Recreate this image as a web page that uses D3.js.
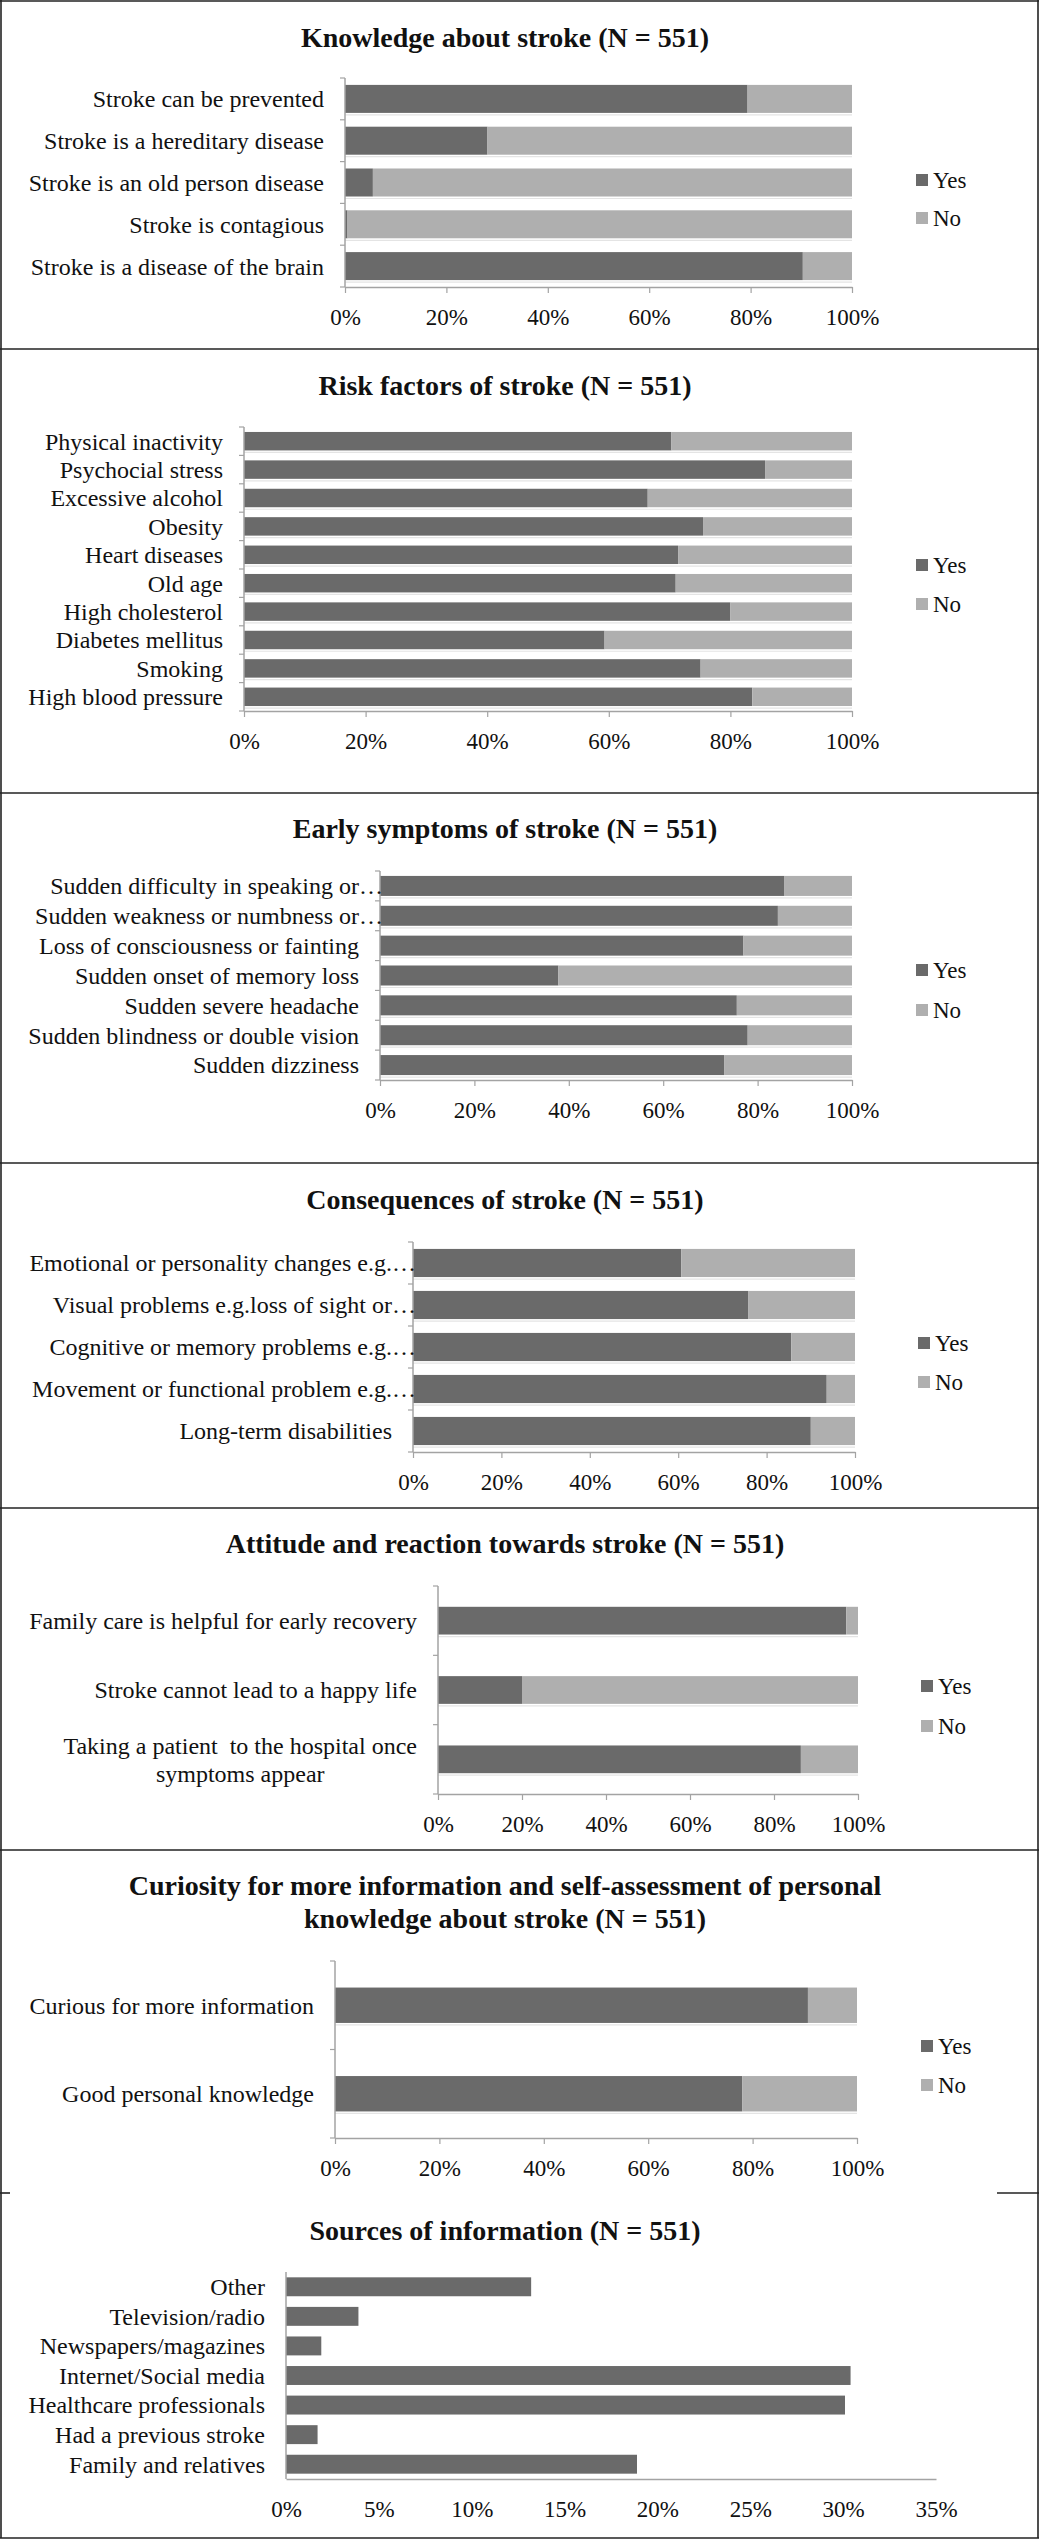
<!DOCTYPE html>
<html>
<head>
<meta charset="utf-8">
<script src="https://cdn.jsdelivr.net/npm/d3@7"></script>
<style>
  body { margin: 0; background: #fff; }
  text { font-family: "Liberation Serif", "Times New Roman", serif; fill: #111; white-space: pre; }
</style>
</head>
<body>
<div id="chart"></div>
<script>
// ---- data (percent), categories listed top to bottom as drawn ----
var knowCats = ['Stroke can be prevented', 'Stroke is a hereditary disease', 'Stroke is an old person disease',
                'Stroke is contagious', 'Stroke is a disease of the brain']
var knowYes = [79.4, 28.1, 5.5, 0.5, 90.3]
var knowNo  = [20.6, 71.9, 94.5, 99.5, 9.7]

var riskCats = ['Physical inactivity', 'Psychocial stress', 'Excessive alcohol', 'Obesity', 'Heart diseases',
                'Old age', 'High cholesterol', 'Diabetes mellitus', 'Smoking', 'High blood pressure']
var riskYes = [70.3, 85.7, 66.4, 75.5, 71.4, 71.0, 80.0, 59.3, 75.1, 83.6]
var riskNo  = [29.7, 14.3, 33.6, 24.5, 28.6, 29.0, 20.0, 40.7, 24.9, 16.4]

var symCats = ['Sudden difficulty in speaking or\u2026', 'Sudden weakness or numbness or\u2026',
               'Loss of consciousness or fainting', 'Sudden onset of memory loss', 'Sudden severe headache',
               'Sudden blindness or double vision', 'Sudden dizziness']
var symYes = [85.7, 84.3, 77.0, 37.8, 75.6, 77.9, 72.9]
var symNo  = [14.3, 15.7, 23.0, 62.2, 24.4, 22.1, 27.1]

var consCats = ['Emotional or personality changes e.g.\u2026', 'Visual problems e.g.loss of sight or\u2026',
                'Cognitive or memory problems e.g.\u2026', 'Movement or functional problem e.g.\u2026',
                'Long-term disabilities']
var consYes = [60.7, 75.9, 85.6, 93.6, 90.0]
var consNo  = [39.3, 24.1, 14.4, 6.4, 10.0]

var attCats = ['Family care is helpful for early recovery', 'Stroke cannot lead to a happy life',
               'Taking a patient  to the hospital once\nsymptoms appear']
var attYes = [97.2, 20.0, 86.4]
var attNo  = [2.8, 80.0, 13.6]

var curCats = ['Curious for more information', 'Good personal knowledge']
var curYes = [90.6, 78.0]
var curNo  = [9.4, 22.0]

var srcCats = ['Other', 'Television/radio', 'Newspapers/magazines', 'Internet/Social media',
               'Healthcare professionals', 'Had a previous stroke', 'Family and relatives']
var srcVals = [13.2, 3.9, 1.9, 30.4, 30.1, 1.7, 18.9]

var pctTicks = [0, 20, 40, 60, 80, 100]
var srcTicks = [0, 5, 10, 15, 20, 25, 30, 35]
var seriesNames = ['Yes', 'No']

// ---- drawing ----
var W = 1039, H = 2539
var dark = '#6a6a6a', light = '#afafaf', axisCol = '#a3a3a3', frame = '#222'

var svg = d3.select('#chart').append('svg').attr('width', W).attr('height', H)

// panel frames
var fr = svg.append('g').attr('stroke', frame).attr('stroke-width', 1.6).attr('fill', 'none')
fr.append('line').attr('x1', 1).attr('x2', 1).attr('y1', 0).attr('y2', 2538)
fr.append('line').attr('x1', 1038).attr('x2', 1038).attr('y1', 0).attr('y2', 2538)
;[1, 349, 793, 1163, 1508, 1850, 2538].forEach(function (y) {
  fr.append('line').attr('x1', 0).attr('x2', W).attr('y1', y).attr('y2', y)
})
fr.append('line').attr('x1', 0).attr('x2', 10).attr('y1', 2193).attr('y2', 2193)
fr.append('line').attr('x1', 997).attr('x2', W).attr('y1', 2193).attr('y2', 2193)

function title (lines, ys) {
  lines.forEach(function (t, i) {
    svg.append('text').attr('x', 505).attr('y', ys[i] + 10)
      .attr('text-anchor', 'middle').attr('font-size', 28).attr('font-weight', 'bold').text(t)
  })
}

function catLabels (g, cats, y, lx) {
  cats.forEach(function (c) {
    var cy = y(c) + y.bandwidth() / 2
    var lines = c.split('\n')
    if (lines.length > 1) {
      var t1 = g.append('text').attr('font-size', 24).attr('text-anchor', 'end')
        .attr('x', lx).attr('y', cy - 14 + 8.4).text(lines[0])
      var w = t1.node().getComputedTextLength()
      g.append('text').attr('font-size', 24).attr('text-anchor', 'middle')
        .attr('x', lx - w / 2).attr('y', cy + 14 + 8.4).text(lines[1])
      return
    }
    var s = c, tail = ''
    if (c.slice(-1) === '\u2026') { s = c.slice(0, -1); tail = '\u2026' }
    g.append('text').attr('font-size', 24).attr('text-anchor', 'end')
      .attr('x', lx).attr('y', cy + 8.4).text(s)
    if (tail) g.append('text').attr('font-size', 24).attr('x', lx).attr('y', cy + 8.4).text(tail)
  })
}

function xAxis (g, x, y1, ticks, tsize) {
  var ax = d3.axisBottom(x).tickValues(ticks).tickFormat(function (d) { return d + '%' })
             .tickSize(tsize).tickSizeOuter(0).tickPadding(16 - tsize + 6)
  var a = g.append('g').attr('transform', 'translate(0,' + y1 + ')').call(ax)
  a.select('.domain').attr('stroke', axisCol).attr('stroke-width', 1.5)
  a.selectAll('.tick line').attr('stroke', axisCol).attr('stroke-width', 1.2)
  a.selectAll('.tick text').attr('font-size', 23).attr('font-family', null).attr('fill', '#111')
}

function stacked (o) {
  var g = svg.append('g')
  title(o.title, o.titleY)
  var x = d3.scaleLinear().domain([0, 100]).range([o.x0, o.x1])
  var y = d3.scaleBand().domain(o.cats).range([o.y0, o.y1])
            .paddingInner(o.pad).paddingOuter(o.pad / 2)
  var rows = o.cats.map(function (c, i) { return { cat: c, yes: o.yes[i], no: o.no[i] } })

  // faint shadow under each row
  g.selectAll('line.sh').data(rows).enter().append('line')
    .attr('x1', o.x0).attr('x2', o.x1)
    .attr('y1', function (d) { return y(d.cat) + y.bandwidth() + 2 })
    .attr('y2', function (d) { return y(d.cat) + y.bandwidth() + 2 })
    .attr('stroke', '#e4e4e4').attr('stroke-width', 1.2)

  g.selectAll('rect.yes').data(rows).enter().append('rect')
    .attr('x', x(0)).attr('y', function (d) { return y(d.cat) })
    .attr('width', function (d) { return x(d.yes) - x(0) })
    .attr('height', y.bandwidth()).attr('fill', dark)
  g.selectAll('rect.no').data(rows).enter().append('rect')
    .attr('x', function (d) { return x(d.yes) }).attr('y', function (d) { return y(d.cat) })
    .attr('width', function (d) { return x(d.yes + d.no) - x(d.yes) })
    .attr('height', y.bandwidth()).attr('fill', light)

  // category axis with ticks on band boundaries
  var gap = (y.step() - y.bandwidth()) / 2
  var bounds = o.cats.map(function (c) { return y(c) - gap }).concat([o.y1])
  g.append('line').attr('x1', o.x0).attr('x2', o.x0).attr('y1', o.y0).attr('y2', o.y1)
    .attr('stroke', axisCol).attr('stroke-width', 1.5)
  g.selectAll('line.yt').data(bounds).enter().append('line')
    .attr('x1', o.x0 - 5).attr('x2', o.x0).attr('y1', function (d) { return d }).attr('y2', function (d) { return d })
    .attr('stroke', axisCol).attr('stroke-width', 1.2)

  xAxis(g, x, o.y1, pctTicks, 6)
  catLabels(g, o.cats, y, o.x0 - 21)

  // legend
  var colors = [dark, light]
  seriesNames.forEach(function (s, i) {
    g.append('rect').attr('x', o.legX).attr('y', o.legY[i] - 6).attr('width', 12).attr('height', 12)
      .attr('fill', colors[i])
    g.append('text').attr('x', o.legX + 17).attr('y', o.legY[i] + 8).attr('font-size', 23).text(s)
  })
}

stacked({ title: ['Knowledge about stroke (N = 551)'], titleY: [37], cats: knowCats, yes: knowYes, no: knowNo,
          x0: 345, x1: 852, y0: 78, y1: 287, pad: 0.33, legX: 916, legY: [180, 218] })
stacked({ title: ['Risk factors of stroke (N = 551)'], titleY: [385], cats: riskCats, yes: riskYes, no: riskNo,
          x0: 244, x1: 852, y0: 427, y1: 711, pad: 0.35, legX: 916, legY: [565, 604] })
stacked({ title: ['Early symptoms of stroke (N = 551)'], titleY: [828], cats: symCats, yes: symYes, no: symNo,
          x0: 380, x1: 852, y0: 871, y1: 1080, pad: 0.33, legX: 916, legY: [970, 1010] })
stacked({ title: ['Consequences of stroke (N = 551)'], titleY: [1199], cats: consCats, yes: consYes, no: consNo,
          x0: 413, x1: 855, y0: 1242, y1: 1452, pad: 0.33, legX: 918, legY: [1343, 1382] })
stacked({ title: ['Attitude and reaction towards stroke (N = 551)'], titleY: [1543], cats: attCats, yes: attYes, no: attNo,
          x0: 438, x1: 858, y0: 1586, y1: 1794, pad: 0.6, legX: 921, legY: [1686, 1726] })
stacked({ title: ['Curiosity for more information and self-assessment of personal', 'knowledge about stroke (N = 551)'],
          titleY: [1885, 1918], cats: curCats, yes: curYes, no: curNo,
          x0: 335, x1: 857, y0: 1961, y1: 2138, pad: 0.6, legX: 921, legY: [2046, 2085] })

// sources of information: simple bars
;(function () {
  var g = svg.append('g')
  title(['Sources of information (N = 551)'], [2230])
  var x = d3.scaleLinear().domain([0, 35]).range([286, 936])
  var y = d3.scaleBand().domain(srcCats).range([2272, 2479]).paddingInner(0.36).paddingOuter(0.18)
  g.selectAll('rect').data(srcVals).enter().append('rect')
    .attr('x', x(0)).attr('y', function (d, i) { return y(srcCats[i]) })
    .attr('width', function (d) { return x(d) - x(0) }).attr('height', y.bandwidth())
    .attr('fill', dark)
  g.append('line').attr('x1', 286).attr('x2', 286).attr('y1', 2272).attr('y2', 2479)
    .attr('stroke', axisCol).attr('stroke-width', 1.5)
  xAxis(g, x, 2479, srcTicks, 0)
  catLabels(g, srcCats, y, 265)
})()
</script>
</body>
</html>
